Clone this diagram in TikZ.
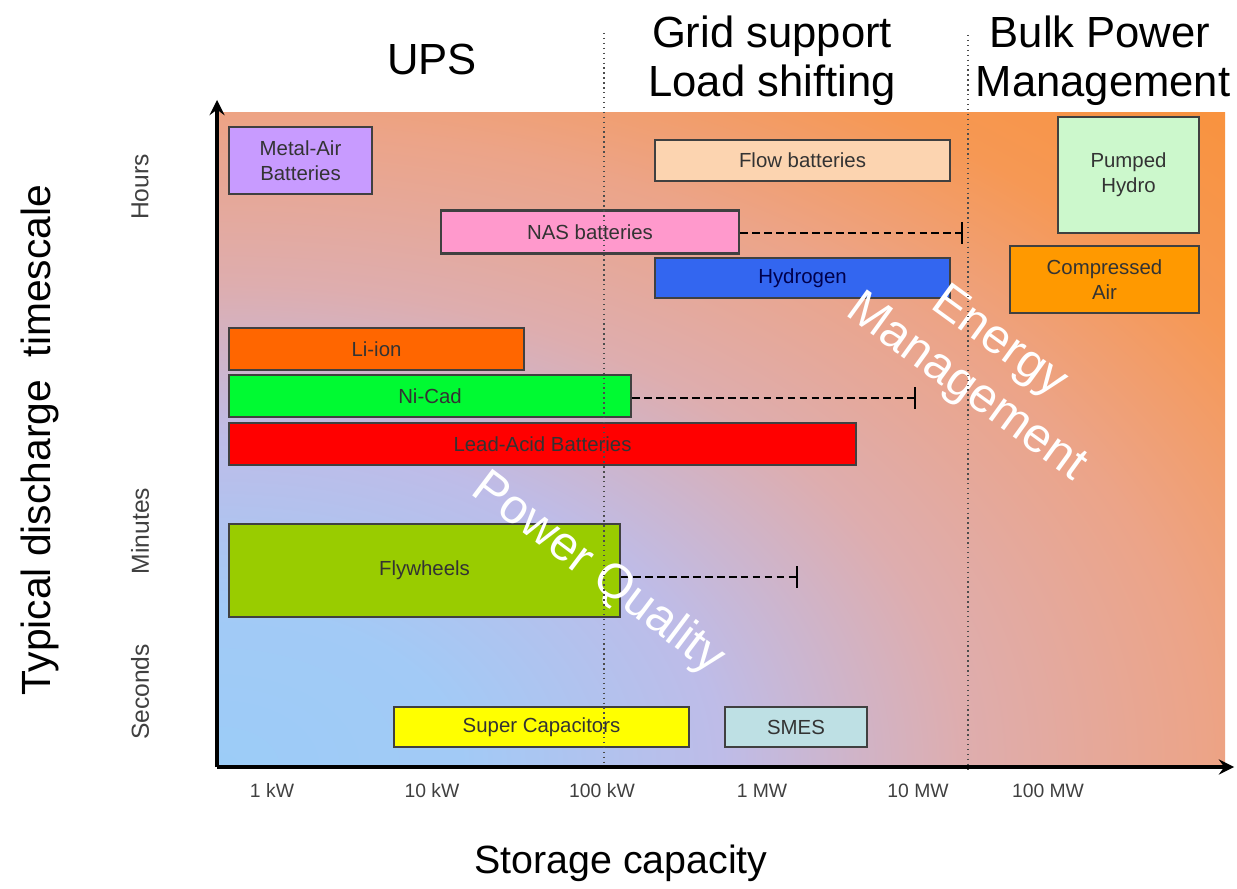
\documentclass[tikz,border=0pt]{standalone}
\usepackage{fontspec}
\setmainfont{Liberation Sans}
\usepackage{xcolor}
\usetikzlibrary{calc, positioning}

\definecolor{metalc}{RGB}{200,155,255}
\definecolor{flowc}{RGB}{252,212,176}
\definecolor{hydroc}{RGB}{204,248,204}
\definecolor{nasc}{RGB}{255,153,204}
\definecolor{hydrogenc}{RGB}{51,102,240}
\definecolor{airc}{RGB}{255,153,0}
\definecolor{liionc}{RGB}{255,102,0}
\definecolor{nicadc}{RGB}{0,250,50}
\definecolor{leadc}{RGB}{255,0,0}
\definecolor{flyc}{RGB}{153,204,0}
\definecolor{superc}{RGB}{255,255,0}
\definecolor{smesc}{RGB}{190,224,228}

% nền: xanh ở góc dưới trái, cam ở góc trên phải
\pgfdeclareradialshading{bgshade}{\pgfpoint{0bp}{0bp}}{%
    color(0bp)=(rgb,255:red,156;green,204;blue,247);
    color(6bp)=(rgb,255:red,162;green,202;blue,246);
    color(12.5bp)=(rgb,255:red,190;green,188;blue,232);
    color(18.5bp)=(rgb,255:red,222;green,173;blue,174);
    color(24.5bp)=(rgb,255:red,236;green,164;blue,136);
    color(30bp)=(rgb,255:red,246;green,152;blue,84);
    color(36bp)=(rgb,255:red,249;green,146;blue,60);
    color(50bp)=(rgb,255:red,249;green,146;blue,60)}

\begin{document}
\begin{tikzpicture}[>=stealth, x=0.01cm, y=-0.01cm,
    box/.style={draw=black!75, line width=0.6pt, inner sep=0pt, align=center,
        text=black!80, font=\fontsize{5.8}{7.1}\selectfont},
    ext/.style={line width=0.7pt, dash pattern=on 2.2pt off 1.2pt},
    endtick/.style={line width=0.6pt},
    zone/.style={densely dotted, line width=0.4pt, black!70},
    ticklbl/.style={text=black!75, font=\fontsize{5.5}{6.5}\selectfont, anchor=base},
    timelbl/.style={text=black!75, rotate=90, font=\fontsize{7}{8}\selectfont},
    ttl/.style={anchor=base, font=\fontsize{12.4}{14}\selectfont},
    watermark/.style={text=white, align=center, font=\fontsize{13.8}{15.8}\selectfont}]

    \useasboundingbox (0,0) rectangle (1237,888);

    % =================================================================
    % 1. NỀN CHUYỂN MÀU
    % =================================================================
    \def\xl{218}
    \def\xr{1225}
    \def\yt{113}
    \def\yb{765}
    \begin{scope}
        \clip (\xl,\yt) rectangle (\xr,\yb);
        \shade[shading=bgshade] (\xl-1007,\yt) rectangle (\xl+1007,\yb+652);
    \end{scope}

    % =================================================================
    % 2. CÁC HỘP CÔNG NGHỆ LƯU TRỮ
    % =================================================================
    \node[box, fill=metalc, minimum width=1.43cm, minimum height=0.67cm]
        (metal) at (300.5,160.5) {Metal-Air\\Batteries};
    \node[box, fill=flowc, minimum width=2.95cm, minimum height=0.41cm]
        (flow) at (802.5,160.5) {Flow batteries};
    \node[box, fill=hydroc, minimum width=1.41cm, minimum height=1.16cm]
        (hydro) at (1128.5,175) {Pumped\\Hydro};
    \node[box, fill=nasc, minimum width=2.98cm, minimum height=0.43cm]
        (nas) at (590,232) {NAS batteries};
    \node[box, fill=hydrogenc, minimum width=2.95cm, minimum height=0.40cm,
        text=blue!30!black] (hydrogen) at (802.5,278) {Hydrogen};
    \node[box, fill=airc, minimum width=1.89cm, minimum height=0.67cm]
        (air) at (1104.5,279.5) {Compressed\\Air};
    \node[box, fill=liionc, minimum width=2.95cm, minimum height=0.42cm]
        (liion) at (376.5,349) {Li-ion};
    \node[box, fill=nicadc, minimum width=4.02cm, minimum height=0.42cm]
        (nicad) at (430,396) {Ni-Cad};
    \node[box, fill=leadc, minimum width=6.27cm, minimum height=0.42cm]
        (lead) at (542.5,444) {Lead-Acid Batteries};
    \node[box, fill=flyc, minimum width=3.91cm, minimum height=0.93cm]
        (fly) at (424.5,570.5) {Flywheels};
    \node[box, fill=superc, minimum width=2.95cm, minimum height=0.40cm]
        (super) at (541.5,727) {Super Capacitors};
    \node[box, fill=smesc, minimum width=1.42cm, minimum height=0.40cm]
        (smes) at (796,727) {SMES};

    % Các đoạn nét đứt kéo dài
    \coordinate (nasend) at (962,233);
    \coordinate (nicadend) at (915,398);
    \coordinate (flyend) at (797,577);
    \foreach \b/\e in {nas/nasend, nicad/nicadend, fly/flyend} {
        \draw[ext] (\b.east |- \e) -- (\e);
        \draw[endtick] ($(\e)+(0,-11)$) -- ($(\e)+(0,11)$);
    }

    % =================================================================
    % 3. CHỮ TRẮNG CHÉO
    % =================================================================
    \node[watermark, rotate=-37] (pq) at (598,574) {Power Quality};
    \node[watermark, rotate=-36] (em) at (982,366) {Energy\\Management};

    % =================================================================
    % 4. ĐƯỜNG CHẤM PHÂN VÙNG VÀ TIÊU ĐỀ
    % =================================================================
    \draw[zone] (604,33) -- (604,770);
    \draw[zone] (968,35) -- (968,770);

    \node[ttl] (ups) at (432,75) {UPS};
    \node[ttl] (grid) at (772,48) {Grid support};
    \node[ttl] (load) at (772,97) {Load shifting};
    \node[ttl] (bulk) at (1100,48) {Bulk Power};
    \node[ttl] (mgmt) at (1103,97) {Management};

    % =================================================================
    % 5. TRỤC TỌA ĐỘ VÀ NHÃN
    % =================================================================
    \coordinate (O) at (217,767);
    \coordinate (ytop) at (217,100);
    \coordinate (xend) at (1234,767);
    \draw[->, line width=0.9pt] (O) -- (ytop);
    \draw[->, line width=0.9pt] (O) -- (xend);

    \foreach \x/\t in {272/1 kW, 432/10 kW, 602/100 kW, 762/1 MW, 918/10 MW, 1048/100 MW}
        \node[ticklbl] at (\x,797) {\t};

    \node[timelbl] (hours) at (140,187) {Hours};
    \node[timelbl] (minutes) at (140,531) {Minutes};
    \node[timelbl] (seconds) at (140,692) {Seconds};

    \node[rotate=90, font=\fontsize{11.6}{13}\selectfont] (ylbl) at (40,440)
        {Typical discharge\ \ timescale};
    \node[anchor=base, font=\fontsize{11.2}{13}\selectfont] (xlbl) at (621,873)
        {Storage capacity};

\end{tikzpicture}
\end{document}
